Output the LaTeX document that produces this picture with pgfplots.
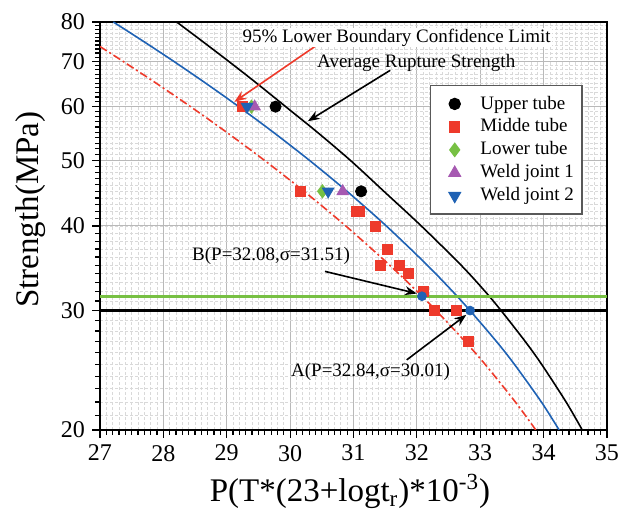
\documentclass[border=0pt]{standalone}
\usepackage{fontspec}
\setmainfont{Liberation Serif}
\usepackage{pgfplots}
\pgfplotsset{compat=1.18}
\usetikzlibrary{arrows.meta}

\definecolor{cRed}{HTML}{EE3A2B}
\definecolor{cBlue}{HTML}{1F62B4}
\definecolor{cGreen}{HTML}{77C043}
\definecolor{cPurple}{HTML}{A659B1}

\pgfplotsset{
  legmark/.style={legend image code/.code={\path (-10pt,0pt) (0pt,0pt); \draw[##1] plot coordinates {(0pt,0pt)};}},
}

\begin{document}
\begin{tikzpicture}
\useasboundingbox (-50pt,-40pt) rectangle (262.5pt,215pt);
\begin{axis}[
    scale only axis, width=253.5pt, height=204pt,
    ymode=log,
    xmin=27, xmax=35, ymin=20, ymax=80,
    xtick={27,...,35}, minor x tick num=9,
    ytick={20,30,40,50,60,70,80},
    yticklabels={20,30,40,50,60,70,80},
    minor ytick={21,...,79},
    tick align=outside, xtick pos=bottom, ytick pos=left,
    major tick length=4pt, minor tick length=2.5pt,
    tick style={black, line width=0.6pt},
    axis line style={line width=1pt},
    grid=both,
    major grid style={gray!55, line width=0.5pt},
    minor grid style={gray!30, line width=0.35pt, dash pattern=on 1.5pt off 1pt},
    /pgf/number format/assume math mode=true,
    tick label style={font=\fontsize{12}{14}\selectfont},
    xlabel={P(T*(23+logt\textsubscript{r})*10\textsuperscript{-3})},
    ylabel={Strength(MPa)},
    label style={font=\fontsize{16.5}{19}\selectfont},
    xlabel style={at={(axis description cs:0.493,-0.15)}, anchor=center},
    ylabel style={at={(axis description cs:-0.136,0.54)}, anchor=center},
    legend cell align=left,
    legend style={at={(rel axis cs:0.650,0.845)}, anchor=north west,
        font=\fontsize{9.5}{11}\selectfont, draw=gray!70!black, line width=0.6pt,
        fill=white, row sep=-0.6pt, inner xsep=2pt, inner ysep=3pt,
        /tikz/every odd column/.append style={column sep=8pt}},
]
% average rupture strength
\addplot[black, line width=0.8pt, smooth, forget plot] coordinates {
 (28.210,80) (28.610,75) (29.030,70) (29.470,65) (29.930,60) (30.430,55)
 (30.950,50) (31.480,45) (32.070,40) (32.700,35) (33.080,32) (33.330,30)
 (33.712,27) (33.968,25) (34.354,22) (34.610,20)};
% blue curve
\addplot[cBlue, line width=0.8pt, smooth, forget plot] coordinates {
 (27.210,80) (27.678,75) (28.163,70) (28.666,65) (29.190,60) (29.735,55)
 (30.304,50) (30.898,45) (31.518,40) (32.166,35) (32.568,32) (32.840,30)
 (33.258,27) (33.539,25) (33.964,22) (34.245,20)};
% 95% lower boundary
\addplot[cRed, line width=0.8pt, smooth, dash pattern=on 4pt off 1.5pt on 1pt off 1.5pt, forget plot] coordinates {
 (27.000,73.6) (27.363,70) (27.884,65) (28.429,60) (28.998,55) (29.594,50)
 (30.220,45) (30.879,40) (31.573,35) (32.008,32) (32.305,30) (32.763,27)
 (33.076,25) (33.553,22) (33.877,20)};
% horizontal limits
\addplot[cGreen, line width=1.6pt, forget plot] coordinates {(27,31.51) (35,31.51)};
\addplot[black, line width=1.3pt, forget plot] coordinates {(27,30) (35,30)};

\addplot[only marks, mark=*, mark size=2.8pt, black, legmark] coordinates {(29.77,60) (31.12,45)};
\addlegendentry{Upper tube}
\addplot[only marks, mark=square*, mark size=2.5pt, cRed, legmark] coordinates {
 (29.24,60) (30.16,45) (31.05,42) (31.10,42) (31.35,40) (31.54,37)
 (31.42,35) (31.73,35) (31.87,34) (32.11,32) (32.27,30) (32.62,30) (32.81,27)};
\addlegendentry{Midde tube}
\addplot[only marks, mark=diamond*, mark size=3.3pt, cGreen, legmark] coordinates {(29.39,60) (30.51,45)};
\addlegendentry{Lower tube}
\addplot[only marks, mark=triangle*, mark size=3.3pt, cPurple, legmark] coordinates {(29.44,60) (30.83,45)};
\addlegendentry{Weld joint 1}
\addplot[only marks, mark=triangle*, mark size=3.3pt, cBlue, mark options={rotate=180}, legmark] coordinates {(29.32,60) (30.60,45)};
\addlegendentry{Weld joint 2}

% points A and B
\addplot[only marks, mark=*, mark size=2.2pt, cBlue, forget plot] coordinates {(32.84,30.01) (32.08,31.51)};

\draw[-{Stealth[length=6pt,width=4.5pt]}, cRed, line width=0.8pt] (axis cs:30.39,73.6) -- (axis cs:29.12,61.0);
\draw[-{Stealth[length=6pt,width=4.5pt]}, black, line width=0.8pt] (axis cs:31.58,67.9) -- (axis cs:30.28,57.1);
\draw[-{Stealth[length=6pt,width=4.5pt]}, black, line width=0.8pt] (axis cs:30.55,34.28) -- (axis cs:32.0,31.8);
\draw[-{Stealth[length=6pt,width=4.5pt]}, black, line width=0.8pt] (axis cs:31.84,25.38) -- (axis cs:32.78,29.58);

\node[font=\fontsize{9.5}{11}\selectfont, fill=white, inner sep=0.5pt] at (axis cs:31.68,75.9) {95\% Lower Boundary Confidence Limit};
\node[font=\fontsize{9.5}{11}\selectfont] at (axis cs:31.99,69.7) {Average Rupture Strength};
\node[font=\fontsize{9.5}{11}\selectfont] at (axis cs:29.70,36.08) {B(P=32.08,σ=31.51)};
\node[font=\fontsize{9.5}{11}\selectfont] at (axis cs:31.27,24.4) {A(P=32.84,σ=30.01)};
\end{axis}
\end{tikzpicture}
\end{document}
